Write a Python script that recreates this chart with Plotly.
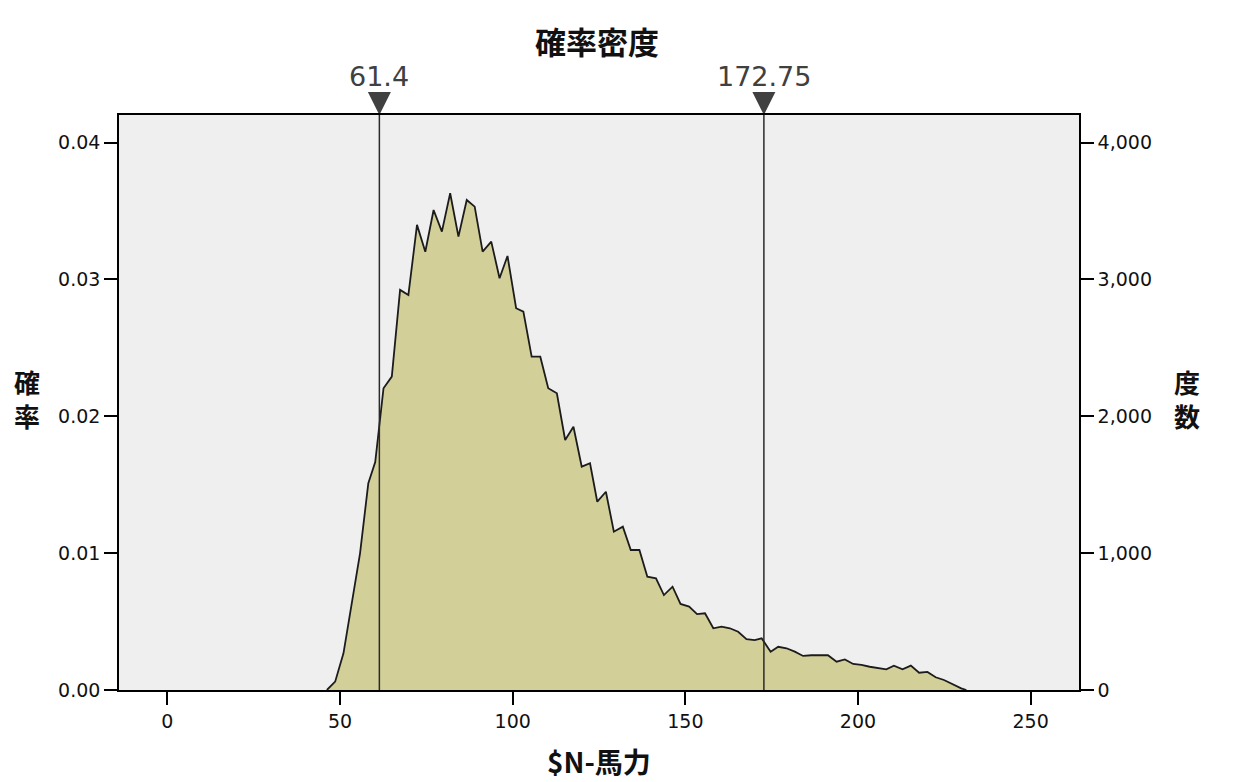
import plotly.graph_objects as go

# horsepower values (x) and probability density (y)
horsepower = [
    46.2, 48.6, 51.0, 53.4, 55.8, 58.2, 60.2, 62.6, 65.0, 67.4,
    69.8, 72.3, 74.7, 77.1, 79.5, 81.9, 84.3, 86.7, 89.0, 91.3,
    93.8, 96.2, 98.5, 101.0, 103.1, 105.5, 108.0, 110.3, 112.8, 115.2,
    117.6, 120.0, 122.4, 124.5, 127.0, 129.3, 131.9, 134.2, 136.7, 139.0,
    141.5, 143.8, 146.3, 148.6, 151.1, 153.4, 155.7, 158.1, 160.5, 162.9,
    165.3, 167.7, 170.1, 172.1, 174.7, 176.9, 179.3, 181.7, 184.1, 186.5,
    188.9, 191.3, 193.8, 196.2, 198.6, 201.0, 203.4, 205.8, 208.2, 210.4,
    212.9, 215.3, 217.7, 220.1, 222.5, 224.9, 227.3, 229.9, 231.4,
]
density = [
    0.0, 0.00061, 0.00268, 0.00634, 0.00999, 0.01511, 0.01666, 0.02205, 0.02290, 0.02924,
    0.02887, 0.03399, 0.03203, 0.03508, 0.03350, 0.03630, 0.03313, 0.03581, 0.03532, 0.03203,
    0.03277, 0.03009, 0.03172, 0.02790, 0.02765, 0.02436, 0.02436, 0.02205, 0.02168, 0.01827,
    0.01924, 0.01632, 0.01657, 0.01376, 0.01449, 0.01157, 0.01194, 0.01023, 0.01023, 0.00828,
    0.00816, 0.00694, 0.00755, 0.00629, 0.00609, 0.00555, 0.00561, 0.00451, 0.00463, 0.00451,
    0.00426, 0.00371, 0.00365, 0.00378, 0.00280, 0.00316, 0.00305, 0.00280, 0.00249, 0.00254,
    0.00254, 0.00254, 0.00207, 0.00224, 0.00190, 0.00183, 0.00170, 0.00159, 0.00151, 0.00178,
    0.00151, 0.00178, 0.00126, 0.00132, 0.00093, 0.00073, 0.00042, 0.00012, 0.0,
]

# slider markers on top of the plot
markers = [61.4, 172.75]
marker_labels = ["61.4", "172.75"]

x_range = [-14, 264]
y_range = [0, 0.04202]
count_range = [0, 4202]

x_ticks = [0, 50, 100, 150, 200, 250]
y_ticks = [0.00, 0.01, 0.02, 0.03, 0.04]
count_ticks = [0, 1000, 2000, 3000, 4000]

tick_font = dict(family="DejaVu Sans", size=19, color="#111111")
cjk = "Noto Sans CJK JP"

# page body adds an 8px margin, so the figure is laid out 8px up/left
PAD = 8
L, T, PW, PH = 118.5 - PAD, 115 - PAD, 960.5, 575

fig = go.Figure()

fig.add_trace(go.Scatter(
    x=horsepower, y=density, mode="lines",
    fill="tozeroy", fillcolor="#d3cf99",
    line=dict(color="#1c1c1c", width=1.8),
    showlegend=False, hoverinfo="x+y"))

# empty trace so the right-hand count axis gets drawn
fig.add_trace(go.Scatter(x=[], y=[], yaxis="y2", showlegend=False))

# triangles sitting on the top edge
fig.add_trace(go.Scatter(
    x=markers, y=[y_range[1]] * len(markers), mode="markers",
    marker=dict(symbol="arrow-down", size=23, color="#404040", line=dict(width=0)),
    cliponaxis=False, showlegend=False, hoverinfo="x"))

for m, lab in zip(markers, marker_labels):
    fig.add_shape(type="line", xref="x", yref="paper", x0=m, x1=m, y0=0, y1=1,
                  line=dict(color="#2a2a2a", width=1.5))
    fig.add_annotation(x=m, y=1, xref="x", yref="paper", text=lab, showarrow=False,
                       yanchor="bottom", yshift=21,
                       font=dict(family="DejaVu Sans", size=27, color="#404040"))

axis_common = dict(showline=True, linecolor="black", linewidth=1.6,
                   ticks="outside", ticklen=13, tickwidth=1.5, tickcolor="black",
                   showgrid=False, zeroline=False, tickfont=tick_font)

fig.update_layout(
    width=1246, height=782,
    margin=dict(l=L, r=1246 - L - PW, t=T, b=782 - T - PH),
    paper_bgcolor="white", plot_bgcolor="#efefef",
    title=dict(text="<b>確率密度</b>", x=(597 - PAD) / 1246, xanchor="center",
               y=1 - (42.7 - PAD) / 782, yanchor="middle",
               font=dict(family=cjk, size=31, color="#111111")),
    xaxis=dict(range=x_range, tickvals=x_ticks, mirror=True, **axis_common),
    yaxis=dict(range=y_range, tickvals=y_ticks, tickformat=".2f", **axis_common),
    yaxis2=dict(range=count_range, tickvals=count_ticks, tickformat=",",
                overlaying="y", side="right", anchor="x", **axis_common),
)

# axis titles; the y titles are stacked one character per line
fig.add_annotation(x=0.5, y=-(761 - 690) / PH, xref="paper", yref="paper",
                   text="<b>$N-馬力</b>", showarrow=False,
                   xanchor="center", yanchor="middle",
                   font=dict(family=cjk, size=28, color="#111111"))
fig.add_annotation(x=(26 - 118.5) / PW, y=(690 - 399) / PH, xref="paper", yref="paper",
                   text="<b>確<br>率</b>", showarrow=False,
                   xanchor="center", yanchor="middle",
                   font=dict(family=cjk, size=26, color="#111111"))
fig.add_annotation(x=(1187 - 118.5) / PW, y=(690 - 399) / PH, xref="paper", yref="paper",
                   text="<b>度<br>数</b>", showarrow=False,
                   xanchor="center", yanchor="middle",
                   font=dict(family=cjk, size=26, color="#111111"))

fig.write_html("out.html")
